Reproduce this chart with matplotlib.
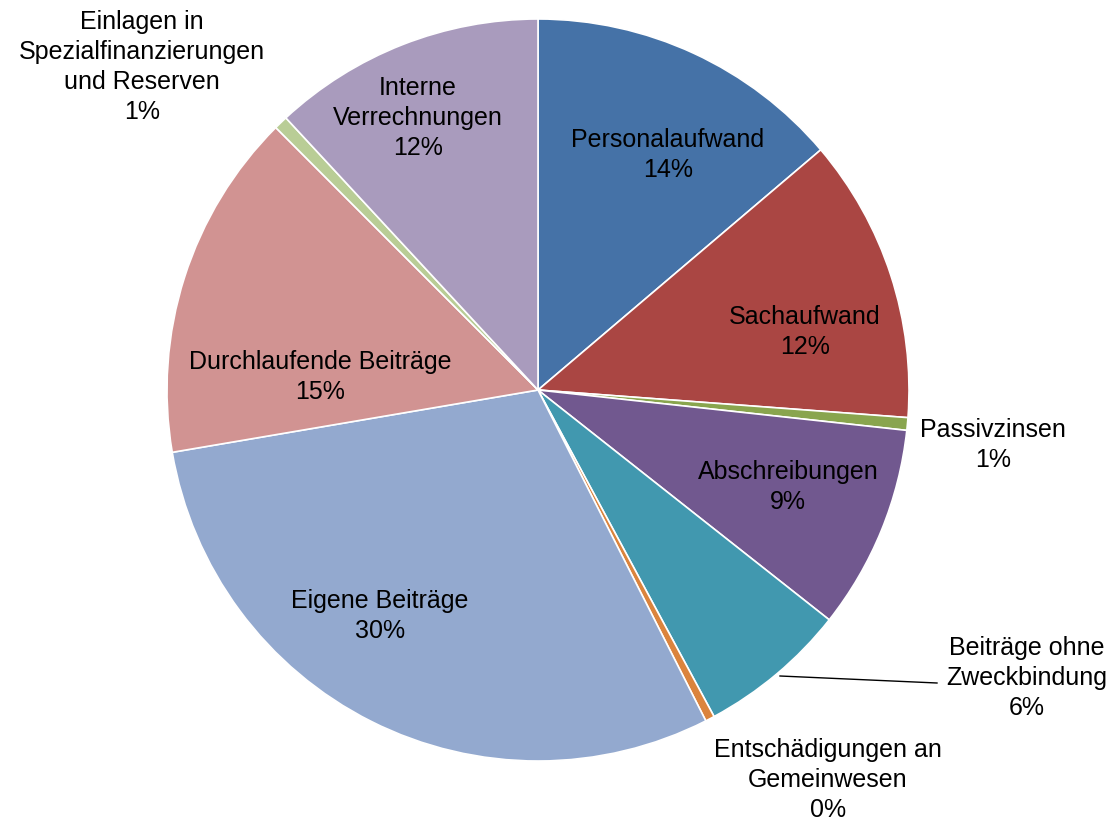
import matplotlib.pyplot as plt

plt.rcParams['font.family'] = ['Liberation Sans', 'DejaVu Sans']

labels = ['Personalaufwand', 'Sachaufwand', 'Passivzinsen', 'Abschreibungen',
          'Beiträge ohne\nZweckbindung', 'Entschädigungen an\nGemeinwesen',
          'Eigene Beiträge', 'Durchlaufende Beiträge',
          'Einlagen in\nSpezialfinanzierungen\nund Reserven',
          'Interne\nVerrechnungen']
shares = [13.8, 12.4, 0.55, 8.9, 6.5, 0.4, 29.8, 15.2, 0.6, 11.9]
pct_text = ['14%', '12%', '1%', '9%', '6%', '0%', '30%', '15%', '1%', '12%']
colors = ['#4572A7', '#AA4643', '#89A54E', '#71588F', '#4198AF',
          '#DB843D', '#93A9CF', '#D19392', '#B9CD96', '#A99BBD']

# label centres in pixels (x, y from top)
label_px = [(668, 155), (805, 332), (993, 445), (788, 487), (1027, 678),
            (828, 780), (380, 616), (320, 377), (142, 67), (418, 118)]

W, H = 1116, 821
cx, cy, R = 538, 390, 371


def to_data(px, py):
    return (px - cx) / R, (cy - py) / R


fig = plt.figure(figsize=(W / 100, H / 100), dpi=100)
ax = fig.add_axes([0, 0, 1, 1])
ax.pie(shares, colors=colors, startangle=90, counterclock=False,
       wedgeprops=dict(edgecolor='white', linewidth=1.2))
ax.set_xlim(to_data(0, 0)[0], to_data(W, 0)[0])
ax.set_ylim(to_data(0, H)[1], to_data(0, 0)[1])
ax.set_aspect('equal')
ax.axis('off')

for lab, pct, (px, py) in zip(labels, pct_text, label_px):
    x, y = to_data(px, py)
    ax.text(x, y, f'{lab}\n{pct}', ha='center', va='center',
            fontsize=18, linespacing=1.3, color='black')

# leader line for Beiträge ohne Zweckbindung
x0, y0 = to_data(780, 676)
x1, y1 = to_data(937, 683)
ax.plot([x0, x1], [y0, y1], color='black', linewidth=1)

plt.savefig('out.png', dpi=100)
